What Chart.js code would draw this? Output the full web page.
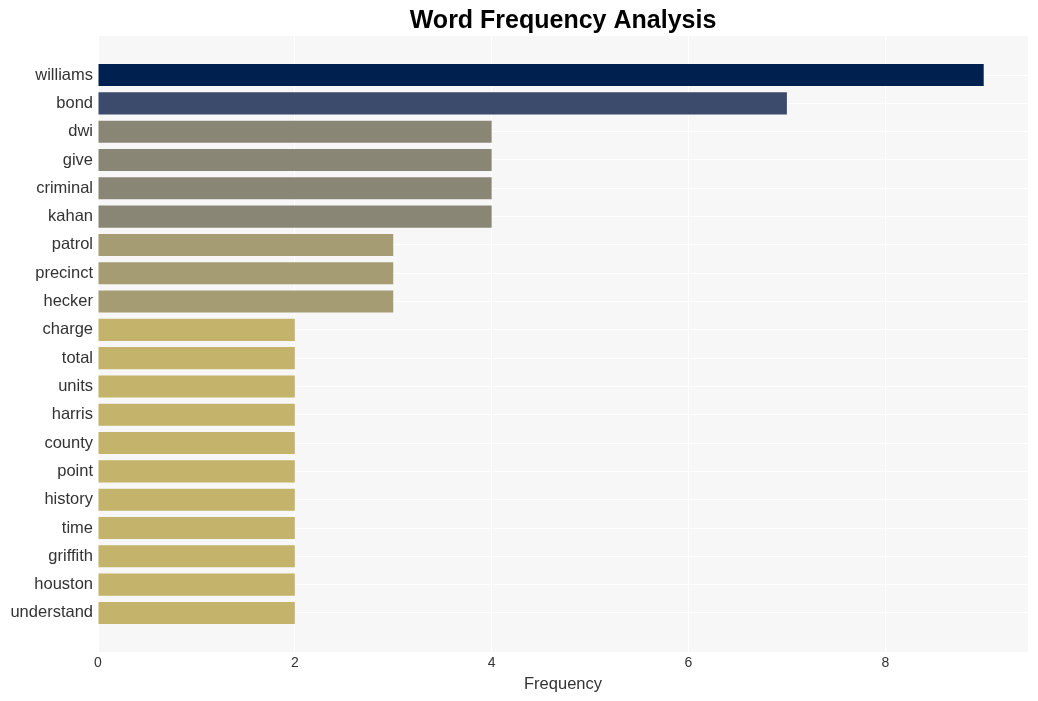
<!DOCTYPE html>
<html>
<head>
<meta charset="utf-8">
<script src="https://cdn.jsdelivr.net/npm/chart.js@4.4.1/dist/chart.umd.min.js"></script>
<style>
  html, body { margin: 0; padding: 0; background: #fff; }
  #wrap { width: 1038px; height: 701px; }
</style>
</head>
<body>
<div id="wrap"><canvas id="bar-chart"></canvas></div>
<script>
// words, top to bottom
var words = ["williams", "bond", "dwi", "give", "criminal", "kahan", "patrol", "precinct",
  "hecker", "charge", "total", "units", "harris", "county", "point", "history", "time",
  "griffith", "houston", "understand"];
var counts = [9, 7, 4, 4, 4, 4, 3, 3, 3, 2, 2, 2, 2, 2, 2, 2, 2, 2, 2, 2];
var xTicks = [0, 2, 4, 6, 8];

// colour by frequency
var shade = { 9: "#00214f", 7: "#3c4a6c", 4: "#8a8676", 3: "#a59c74", 2: "#c3b36b" };

var plotBg = {
  id: 'plotBg',
  beforeDraw: function(chart) {
    var a = chart.chartArea, ctx = chart.ctx;
    ctx.save();
    ctx.fillStyle = '#f7f7f7';
    ctx.fillRect(a.left, a.top, a.right - a.left, a.bottom - a.top);
    ctx.restore();
  }
};

new Chart(document.getElementById("bar-chart"), {
  type: 'bar',
  data: {
    datasets: [{
      data: counts.map(function(c, i) { return { x: c, y: i }; }),
      backgroundColor: counts.map(function(c) { return shade[c]; }),
      categoryPercentage: 1,
      barPercentage: 0.78
    }]
  },
  options: {
    indexAxis: 'y',
    responsive: true,
    maintainAspectRatio: false,
    animation: false,
    layout: { padding: { top: 0, right: 10, bottom: 4, left: 0 } },
    plugins: {
      legend: { display: false },
      tooltip: { enabled: false },
      title: {
        display: true,
        fullSize: false,
        text: 'Word Frequency Analysis',
        color: '#000',
        font: { family: 'Liberation Sans, Arial, sans-serif', size: 25, weight: 'bold', lineHeight: 1.2 },
        padding: { top: 6, bottom: 0 }
      }
    },
    scales: {
      x: {
        type: 'linear',
        bounds: 'data',
        min: 0,
        max: 9.45,
        afterFit: function(s) { s.height = 45; },
        afterBuildTicks: function(s) {
          s.ticks = xTicks.map(function(v) { return { value: v }; });
        },
        ticks: {
          stepSize: 2,
          includeBounds: false,
          padding: 3,
          color: '#333',
          font: { family: 'Liberation Sans, Arial, sans-serif', size: 14 }
        },
        grid: { color: '#ffffff', lineWidth: 1, drawTicks: false },
        border: { display: false },
        title: {
          display: true,
          text: 'Frequency',
          color: '#333',
          padding: { top: 2, bottom: 3 },
          font: { family: 'Liberation Sans, Arial, sans-serif', size: 16.5 }
        }
      },
      y: {
        type: 'linear',
        bounds: 'data',
        offset: false,
        reverse: true,
        min: -1.38,
        max: 20.38,
        afterFit: function(s) { s.width = 98; },
        afterBuildTicks: function(s) {
          s.ticks = words.map(function(w, i) { return { value: i }; });
        },
        ticks: {
          stepSize: 1,
          includeBounds: false,
          autoSkip: false,
          padding: 5,
          color: '#333',
          font: { family: 'Liberation Sans, Arial, sans-serif', size: 16.5 },
          callback: function(v) { return words[v]; }
        },
        grid: { color: '#ffffff', lineWidth: 1, drawTicks: false, offset: false },
        border: { display: false }
      }
    }
  },
  plugins: [plotBg]
});
</script>
</body>
</html>
